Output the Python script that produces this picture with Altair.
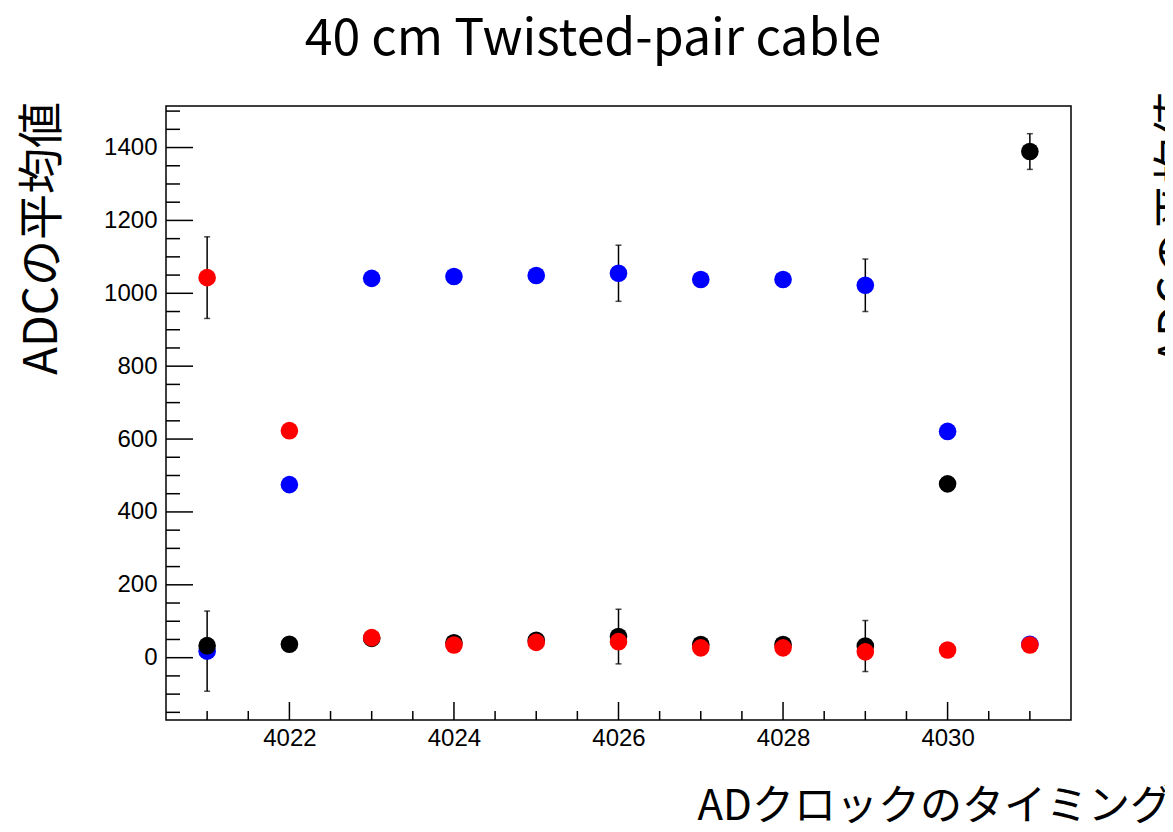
import altair as alt
import pandas as pd

# ---- data ----
timing = [4021, 4022, 4023, 4024, 4025, 4026, 4027, 4028, 4029, 4030, 4031]
blue_vals = [18, 475, 1041, 1046, 1049, 1055, 1038, 1038, 1022, 621, 37]
black_vals = [33, 37, 53, 41, 48, 58, 36, 36, 32, 477, 1389]
red_vals = [1043, 623, 55, 35, 42, 44, 27, 27, 16, 21, 35]
# visible error bars (0 = none visible)
blue_err = [110, 0, 0, 0, 0, 77, 0, 0, 72, 0, 0]
black_err = [0, 0, 0, 0, 0, 75, 0, 0, 70, 0, 49]
red_err = [112, 0, 0, 0, 0, 0, 0, 0, 0, 0, 0]

x_major = [4022, 4024, 4026, 4028, 4030]
x_minor = [v / 2 for v in range(2 * 4021, 2 * 4031 + 1) if (v / 2) not in x_major]
y_major = [0, 200, 400, 600, 800, 1000, 1200, 1400]
y_minor = [v for v in range(-150, 1501, 50) if v not in y_major]

title_text = "40 cm Twisted-pair cable"
x_title = "ADクロックのタイミング"
y_title = "ADCの平均値"

W, H = 905, 614
JP = "Noto Sans CJK JP"

xscale = alt.Scale(domain=[4020.5, 4031.5], nice=False, zero=False)
yscale = alt.Scale(domain=[-171, 1514], nice=False, zero=False)

x_axis = alt.Axis(values=x_major, format="d", title=x_title, domain=False, ticks=False,
                  grid=False, labelFont="Liberation Sans", labelFontSize=24,
                  labelColor="black", labelPadding=6, titleFont=JP, titleFontSize=42,
                  titleFontWeight="normal", titleColor="black", titleX=531, titleY=99,
                  titleAlign="left", titleBaseline="alphabetic")
y_axis = alt.Axis(values=y_major, format="d", title=y_title, domain=False, ticks=False,
                  grid=False, labelFont="Liberation Sans", labelFontSize=24,
                  labelColor="black", labelPadding=9, titleFont=JP, titleFontSize=46,
                  titleFontWeight="normal", titleColor="black", titleAngle=270,
                  titleX=-123.5, titleY=132, titleAlign="center", titleBaseline="middle")

series = [("blue", blue_vals, blue_err, "#0000ff"),
          ("black", black_vals, black_err, "#000000"),
          ("red", red_vals, red_err, "#ff0000")]

rows = []
for name, vals, errs, _ in series:
    for t, v, e in zip(timing, vals, errs):
        rows.append({"timing": t, "series": name, "value": v, "err": e,
                     "lo": v - e, "hi": v + e})
df = pd.DataFrame(rows)
df_err = df[df["err"] > 0]


def X(field):
    return alt.X(field, scale=xscale, axis=x_axis)


def Y(field):
    return alt.Y(field, scale=yscale, axis=y_axis)


layers = []

# tick marks drawn inward
ymaj = pd.DataFrame({"v": y_major})
ymin = pd.DataFrame({"v": y_minor})
xmaj = pd.DataFrame({"v": x_major})
xmin = pd.DataFrame({"v": x_minor})
tick_style = dict(color="black", strokeWidth=1.5)
layers.append(alt.Chart(ymaj).mark_rule(**tick_style).encode(
    y=Y("v:Q"), x=alt.value(0), x2=alt.value(27)))
layers.append(alt.Chart(ymin).mark_rule(**tick_style).encode(
    y=Y("v:Q"), x=alt.value(0), x2=alt.value(14)))
layers.append(alt.Chart(xmaj).mark_rule(**tick_style).encode(
    x=X("v:Q"), y=alt.value(H), y2=alt.value(H - 18)))
layers.append(alt.Chart(xmin).mark_rule(**tick_style).encode(
    x=X("v:Q"), y=alt.value(H), y2=alt.value(H - 9)))

# error bars
layers.append(alt.Chart(df_err).mark_rule(color="black", strokeWidth=1.5).encode(
    x=X("timing:Q"), y=Y("lo:Q"), y2="hi:Q"))
for col in ["lo", "hi"]:
    layers.append(alt.Chart(df_err).mark_tick(color="black", orient="horizontal",
                                              size=6, thickness=1.5).encode(
        x=X("timing:Q"), y=Y(f"{col}:Q")))

# points, drawn blue, black, red
for name, _, _, color in series:
    layers.append(alt.Chart(df[df["series"] == name]).mark_circle(
        size=310, opacity=1, color=color).encode(
        x=X("timing:Q"), y=Y("value:Q")))

# title
layers.append(alt.Chart(pd.DataFrame({"t": [title_text]})).mark_text(
    font=JP, fontSize=50, color="black", align="center", baseline="alphabetic").encode(
    text="t:N", x=alt.value(427), y=alt.value(-51)))

# cut-off axis title of neighbouring panel at the right edge
layers.append(alt.Chart(pd.DataFrame({"t": [y_title]})).mark_text(
    font=JP, fontSize=46, color="black", align="center", baseline="middle",
    angle=270).encode(text="t:N", x=alt.value(1012), y=alt.value(122.5)))

chart = alt.layer(*layers).properties(
    width=W, height=H,
    autosize=alt.AutoSizeParams(type="none"),
    padding={"left": 158, "top": 98, "right": 94, "bottom": 104},
    background="white",
).configure_view(stroke="black", strokeWidth=1.5)

chart.save("out.html", embed_options={"renderer": "svg", "actions": False})
